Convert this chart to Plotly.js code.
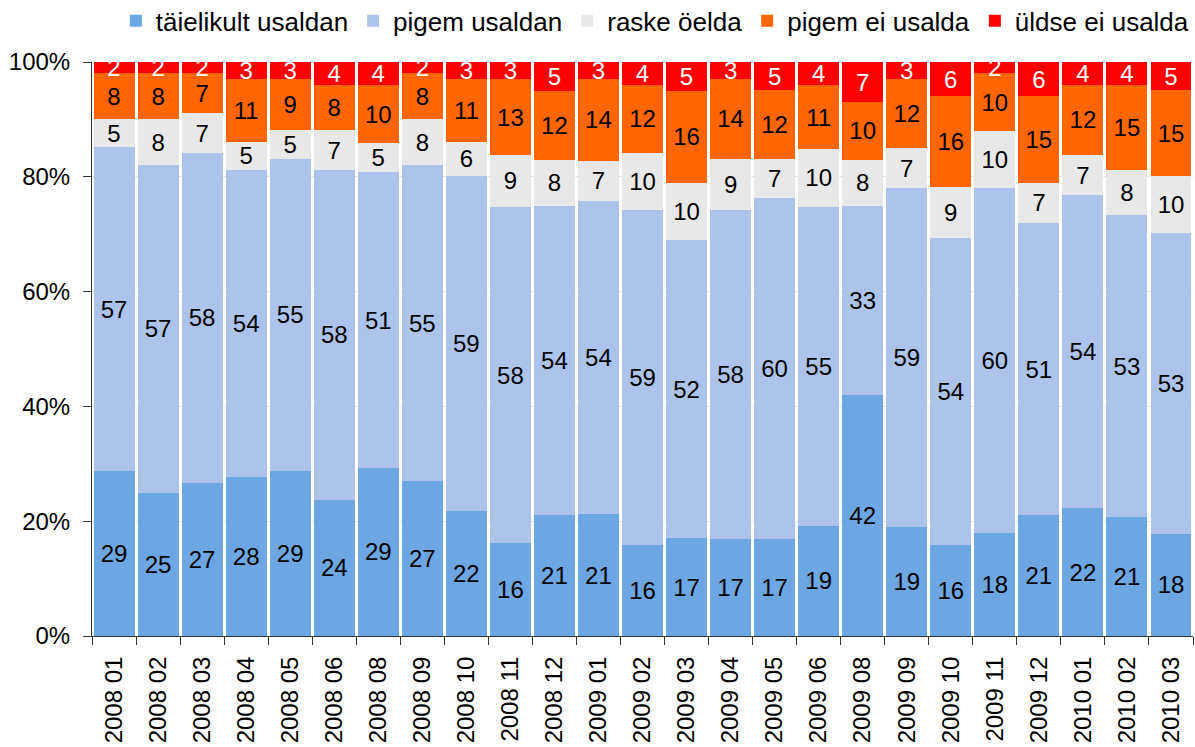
<!DOCTYPE html>
<html>
<head>
<meta charset="utf-8">
<script src="https://cdn.plot.ly/plotly-3.0.1.min.js"></script>
<style>html,body{margin:0;padding:0;background:#fff;}#chart{width:1195px;height:747px;}</style>
</head>
<body>
<div id="chart"></div>
<script>
const categories = ["2008 01","2008 02","2008 03","2008 04","2008 05","2008 06","2008 08","2008 09","2008 10","2008 11","2008 12","2009 01","2009 02","2009 03","2009 04","2009 05","2009 06","2009 08","2009 09","2009 10","2009 11","2009 12","2010 01","2010 02","2010 03"];
const taielikult = [29,25,27,28,29,24,29,27,22,16,21,21,16,17,17,17,19,42,19,16,18,21,22,21,18];
const pigemUsaldan = [57,57,58,54,55,58,51,55,59,58,54,54,59,52,58,60,55,33,59,54,60,51,54,53,53];
const raskeOelda = [5,8,7,5,5,7,5,8,6,9,8,7,10,10,9,7,10,8,7,9,10,7,7,8,10];
const pigemEiUsalda = [8,8,7,11,9,8,10,8,11,13,12,14,12,16,14,12,11,10,12,16,10,15,12,15,15];
const uldseEiUsalda = [2,2,2,3,3,4,4,2,3,3,5,3,4,5,3,5,4,7,3,6,2,6,4,4,5];

const seriesNames = ["täielikult usaldan","pigem usaldan","raske öelda","pigem ei usalda","üldse ei usalda"];
const seriesData = [taielikult, pigemUsaldan, raskeOelda, pigemEiUsalda, uldseEiUsalda];
const seriesColors = ["#6CA6E3","#AEC3EC","#E8E8E8","#FF6600","#FF0000"];
const textColors = ["#000","#000","#000","#000","#fff"];

const FONT = "Liberation Sans, Arial, sans-serif";

const traces = seriesData.map((vals, i) => ({
  type: "bar",
  name: seriesNames[i],
  x: categories,
  y: vals,
  text: vals.map(String),
  textposition: "inside",
  insidetextanchor: "middle",
  textangle: 0,
  constraintext: "none",
  cliponaxis: true,
  textfont: {family: FONT, size: 24, color: textColors[i]},
  marker: {color: seriesColors[i], line: {width: 0}},
  hoverinfo: "x+y+name"
}));

const layout = {
  width: 1195,
  height: 747,
  barmode: "stack",
  barnorm: "percent",
  bargap: 0.07,
  paper_bgcolor: "#fff",
  plot_bgcolor: "#fff",
  font: {family: FONT, size: 24, color: "#000"},
  margin: {l: 92, r: 2, t: 62, b: 111, pad: 0},
  uniformtext: {mode: "show", minsize: 24},
  legend: {
    orientation: "h",
    xref: "container", yref: "container",
    x: 0.548, xanchor: "center",
    y: 0.972, yanchor: "middle",
    font: {family: FONT, size: 26, color: "#000"},
    traceorder: "normal",
    bgcolor: "rgba(0,0,0,0)"
  },
  xaxis: {
    type: "category",
    tickangle: -90,
    tickson: "boundaries",
    ticks: "outside",
    ticklen: 8,
    tickcolor: "#333",
    showline: true,
    linecolor: "#333",
    linewidth: 1,
    showgrid: false,
    ticklabelstandoff: 10,
    tickfont: {family: FONT, size: 24, color: "#000"}
  },
  yaxis: {
    range: [0, 100],
    tickvals: [0, 20, 40, 60, 80, 100],
    ticktext: ["0%", "20%", "40%", "60%", "80%", "100%"],
    ticks: "outside",
    ticklen: 8,
    tickcolor: "#333",
    showline: true,
    linecolor: "#333",
    linewidth: 1,
    showgrid: true,
    gridcolor: "#e6e6e6",
    zeroline: false,
    ticklabelstandoff: 8,
    tickfont: {family: FONT, size: 24, color: "#000"}
  },
  showlegend: true
};

Plotly.newPlot("chart", traces, layout, {displayModeBar: false, staticPlot: true});
</script>
</body>
</html>
